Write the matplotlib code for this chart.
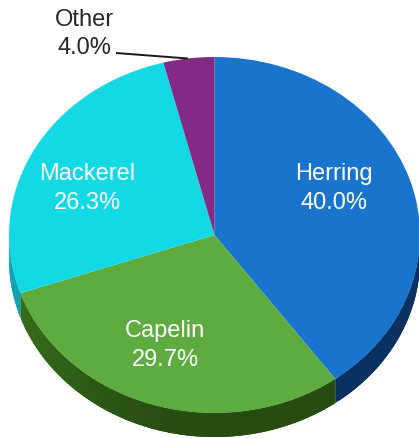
import numpy as np
import matplotlib
matplotlib.use("Agg")
import matplotlib.pyplot as plt
from matplotlib.colors import to_rgb

categories = ["Herring", "Capelin", "Mackerel", "Other"]
shares = [40.0, 29.7, 26.3, 4.0]
top_colors = ["#1874CC", "#5EAB40", "#12D9E3", "#832B84"]
side_dark = ["#0A3160", "#264C12", "#0D6E7B", "#4A154C"]

W, H = 419, 439
CX, CY, RX, RY, DEPTH = 214.5, 236.0, 205.5, 178.0, 24.0

plt.rcParams["font.family"] = ["Liberation Sans", "DejaVu Sans"]
fig = plt.figure(figsize=(W / 100, H / 100), dpi=100)
ax = fig.add_axes([0, 0, 1, 1])


def px(x, y):
    return (x - CX) / RX, (CY - y) / RY


depth = DEPTH / RY
# Side wall of the disc: visible lower half only, slice by slice
start = 90.0
for share, dark in zip(shares, side_dark):
    end = start - share * 3.6
    for offset in (0, 360):
        a0, a1 = end + offset, start + offset
        lo, hi = max(a0, -180), min(a1, 0)
        if hi <= lo:
            continue
        edges = np.linspace(lo, hi, int(hi - lo) + 2)
        for e0, e1 in zip(edges[:-1], edges[1:]):
            # each strip overlaps the next so no seams show between them
            t = np.radians(np.linspace(e0, min(e1 + 1.5, hi), 6))
            mid = np.radians((e0 + e1) / 2)
            k = 1 + 0.5 * max(0, -np.cos(mid)) ** 2
            col = np.clip(np.array(to_rgb(dark)) * k, 0, 1)
            xs = np.r_[np.cos(t), np.cos(t)[::-1]]
            ys = np.r_[np.sin(t), np.sin(t)[::-1] - depth]
            ax.fill(xs, ys, facecolor=col, edgecolor="none", lw=0, zorder=1)
    start = end

ax.pie(shares, colors=top_colors, startangle=90, counterclock=False, radius=1.0,
       wedgeprops={"linewidth": 0, "zorder": 2})
ax.set_aspect("auto")
ax.set_xlim(-CX / RX, (W - CX) / RX)
ax.set_ylim((CY - H) / RY, CY / RY)
ax.axis("off")

label_px = [(334, 188.5), (165, 345.5), (87, 188.5), (84, 34)]
for name, share, (lx, ly), col in zip(categories, shares, label_px,
                                      ["white", "white", "white", "#262626"]):
    tx, ty = px(lx, ly)
    ax.text(tx, ty, f"{name}\n{share:.1f}%", color=col, fontsize=17, ha="center",
            va="center", linespacing=1.38, zorder=5)

x0, y0 = px(116, 54)
x1, y1 = px(188, 59.5)
ax.plot([x0, x1], [y0, y1], color="#1a1a1a", lw=1.4, zorder=5, solid_capstyle="butt")

fig.savefig("out.png", dpi=100, facecolor="white")
